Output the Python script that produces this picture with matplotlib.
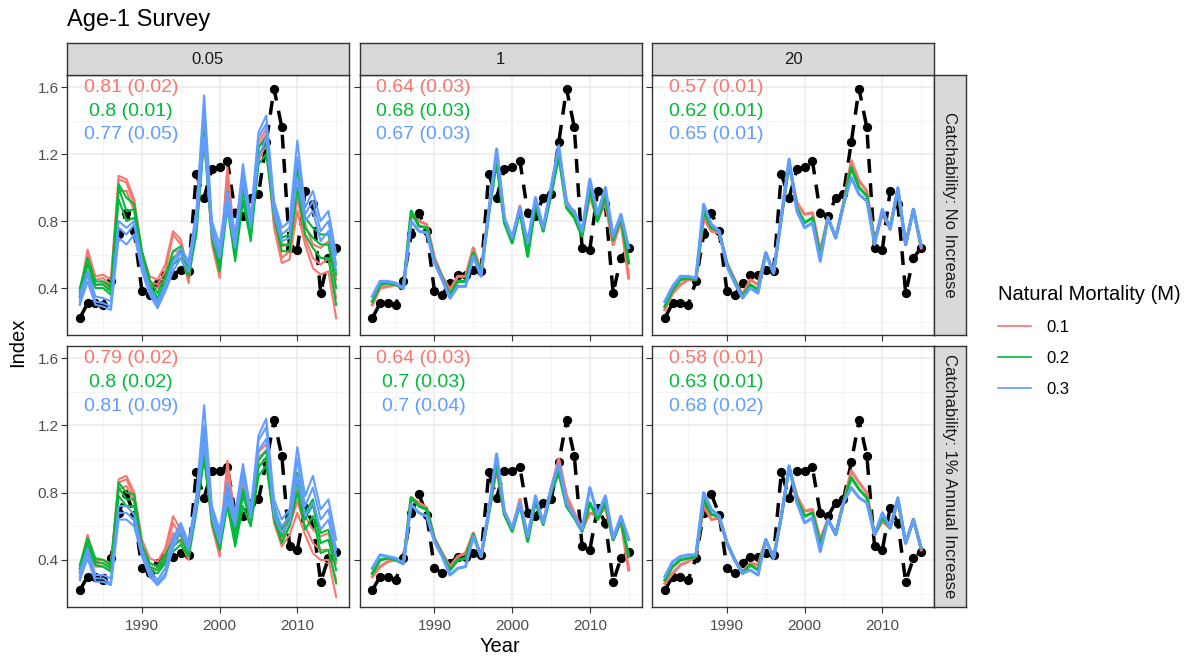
import matplotlib
matplotlib.use("Agg")
import matplotlib.pyplot as plt
from matplotlib.lines import Line2D

plt.rcParams["font.family"] = ["Liberation Sans", "DejaVu Sans"]

W, H = 1190, 659

years = list(range(1982, 2016))
m_labels = ["0.1", "0.2", "0.3"]
m_colors = ["#F8766D", "#00BA38", "#619CFF"]
q_labels = ["0.05", "1", "20"]
row_labels = ["Catchability: No Increase", "Catchability: 1% Annual Increase"]

# observed survey index
obs_top = [0.22, 0.31, 0.31, 0.30, 0.44, 0.72, 0.85, 0.74, 0.38, 0.36, 0.43, 0.48, 0.48, 0.51, 0.50,
           1.08, 0.94, 1.11, 1.12, 1.16, 0.85, 0.83, 0.94, 0.96, 1.27, 1.59, 1.36, 0.64, 0.63, 0.98,
           0.90, 0.37, 0.58, 0.64]
obs_bot = [0.22, 0.30, 0.30, 0.28, 0.41, 0.68, 0.79, 0.67, 0.35, 0.32, 0.38, 0.42, 0.42, 0.44, 0.43,
           0.92, 0.77, 0.93, 0.93, 0.95, 0.68, 0.66, 0.74, 0.76, 0.98, 1.23, 1.02, 0.48, 0.46, 0.71,
           0.62, 0.27, 0.41, 0.45]

# q = 0.05, no increase (hi / mid / lo of the replicate band)
top_q005_m1_hi = [0.37, 0.63, 0.47, 0.48, 0.45, 1.07, 1.05, 0.93, 0.62, 0.47, 0.45, 0.54, 0.74, 0.69, 0.49, 0.83, 1.48,
                  0.73, 0.53, 1.12, 0.66, 1.08, 0.80, 1.27, 1.35, 0.88, 0.65, 0.66, 0.98, 0.78, 0.66, 0.64, 0.68, 0.45]
top_q005_m1_mid = [0.34, 0.61, 0.45, 0.46, 0.42, 1.05, 1.03, 0.90, 0.58, 0.44, 0.42, 0.50, 0.72, 0.66, 0.46, 0.80, 1.46,
                   0.70, 0.49, 1.10, 0.62, 1.06, 0.76, 1.24, 1.32, 0.82, 0.58, 0.62, 0.94, 0.70, 0.58, 0.54, 0.58, 0.34]
top_q005_m1_lo = [0.30, 0.55, 0.42, 0.43, 0.39, 0.98, 0.98, 0.86, 0.55, 0.42, 0.40, 0.46, 0.62, 0.62, 0.43, 0.78, 1.38,
                  0.66, 0.46, 1.06, 0.58, 1.00, 0.72, 1.16, 1.26, 0.76, 0.55, 0.57, 0.86, 0.66, 0.52, 0.48, 0.50, 0.22]
top_q005_m2_hi = [0.40, 0.58, 0.44, 0.44, 0.41, 1.02, 0.94, 0.90, 0.62, 0.45, 0.37, 0.47, 0.62, 0.65, 0.53, 0.80, 1.40,
                  0.78, 0.58, 0.98, 0.64, 1.02, 0.76, 1.24, 1.30, 0.90, 0.70, 0.72, 1.12, 0.82, 0.76, 0.72, 0.72, 0.48]
top_q005_m2_mid = [0.38, 0.54, 0.42, 0.42, 0.38, 1.00, 0.86, 0.87, 0.58, 0.42, 0.34, 0.44, 0.58, 0.62, 0.50, 0.76, 1.36,
                   0.74, 0.54, 0.94, 0.60, 0.98, 0.72, 1.20, 1.26, 0.86, 0.66, 0.66, 1.10, 0.76, 0.70, 0.66, 0.66, 0.40]
top_q005_m2_lo = [0.35, 0.50, 0.40, 0.40, 0.36, 0.93, 0.80, 0.82, 0.55, 0.40, 0.32, 0.41, 0.54, 0.58, 0.47, 0.72, 1.28,
                  0.70, 0.50, 0.88, 0.56, 0.92, 0.68, 1.14, 1.20, 0.82, 0.62, 0.62, 1.00, 0.72, 0.64, 0.58, 0.58, 0.30]
top_q005_m3_hi = [0.36, 0.50, 0.35, 0.34, 0.32, 0.80, 0.76, 0.80, 0.56, 0.40, 0.32, 0.42, 0.56, 0.64, 0.56, 0.86, 1.55,
                  0.80, 0.66, 0.98, 0.72, 1.14, 0.82, 1.33, 1.43, 0.92, 0.76, 0.80, 1.28, 0.88, 0.98, 0.80, 0.86, 0.60]
top_q005_m3_mid = [0.32, 0.48, 0.32, 0.31, 0.29, 0.76, 0.72, 0.78, 0.54, 0.38, 0.30, 0.40, 0.54, 0.61, 0.54, 0.82, 1.45,
                   0.76, 0.62, 0.94, 0.68, 1.10, 0.80, 1.30, 1.38, 0.88, 0.72, 0.76, 1.18, 0.84, 0.92, 0.74, 0.80, 0.54]
top_q005_m3_lo = [0.30, 0.44, 0.30, 0.29, 0.27, 0.70, 0.66, 0.72, 0.50, 0.36, 0.28, 0.38, 0.50, 0.58, 0.50, 0.78, 1.30,
                  0.72, 0.58, 0.88, 0.64, 1.04, 0.76, 1.18, 1.30, 0.84, 0.68, 0.70, 1.06, 0.80, 0.86, 0.68, 0.74, 0.50]

# q = 0.05, 1% annual increase
bot_q005_m1_hi = [0.35, 0.55, 0.40, 0.40, 0.38, 0.88, 0.90, 0.80, 0.52, 0.41, 0.39, 0.47, 0.66, 0.58, 0.45, 0.78, 1.16,
                  0.68, 0.48, 0.99, 0.64, 0.88, 0.70, 1.04, 1.09, 0.72, 0.58, 0.64, 0.82, 0.66, 0.58, 0.54, 0.56, 0.38]
bot_q005_m1_mid = [0.32, 0.52, 0.38, 0.38, 0.36, 0.86, 0.88, 0.77, 0.48, 0.38, 0.36, 0.44, 0.62, 0.54, 0.42, 0.75, 1.13,
                   0.64, 0.44, 0.97, 0.60, 0.85, 0.66, 1.01, 1.05, 0.66, 0.52, 0.60, 0.75, 0.60, 0.50, 0.46, 0.46, 0.28]
bot_q005_m1_lo = [0.28, 0.48, 0.36, 0.36, 0.34, 0.82, 0.84, 0.74, 0.44, 0.35, 0.34, 0.41, 0.56, 0.50, 0.40, 0.72, 1.06,
                  0.60, 0.42, 0.94, 0.56, 0.80, 0.62, 0.96, 1.00, 0.62, 0.48, 0.55, 0.68, 0.55, 0.44, 0.40, 0.40, 0.18]
bot_q005_m2_hi = [0.37, 0.53, 0.41, 0.40, 0.37, 0.86, 0.80, 0.79, 0.49, 0.38, 0.36, 0.43, 0.52, 0.55, 0.47, 0.76, 1.12,
                  0.70, 0.54, 0.84, 0.56, 0.82, 0.68, 0.99, 1.05, 0.72, 0.58, 0.68, 0.92, 0.68, 0.76, 0.56, 0.58, 0.40]
bot_q005_m2_mid = [0.35, 0.50, 0.39, 0.38, 0.35, 0.83, 0.76, 0.76, 0.46, 0.36, 0.34, 0.40, 0.48, 0.52, 0.44, 0.72, 1.07,
                   0.66, 0.50, 0.78, 0.52, 0.78, 0.64, 0.95, 1.01, 0.68, 0.54, 0.64, 0.87, 0.64, 0.73, 0.50, 0.52, 0.34]
bot_q005_m2_lo = [0.33, 0.47, 0.37, 0.36, 0.33, 0.78, 0.72, 0.72, 0.43, 0.34, 0.32, 0.38, 0.45, 0.49, 0.42, 0.68, 1.00,
                  0.62, 0.46, 0.72, 0.48, 0.72, 0.60, 0.90, 0.96, 0.64, 0.50, 0.60, 0.80, 0.58, 0.66, 0.44, 0.46, 0.26]
bot_q005_m3_hi = [0.33, 0.47, 0.31, 0.31, 0.29, 0.72, 0.72, 0.67, 0.46, 0.34, 0.28, 0.35, 0.53, 0.62, 0.50, 0.78, 1.32,
                  0.72, 0.58, 0.86, 0.68, 0.97, 0.70, 1.14, 1.24, 0.76, 0.64, 0.70, 1.07, 0.78, 0.90, 0.70, 0.76, 0.52]
bot_q005_m3_mid = [0.30, 0.44, 0.29, 0.29, 0.26, 0.68, 0.68, 0.64, 0.44, 0.32, 0.26, 0.32, 0.50, 0.60, 0.48, 0.74, 1.20,
                   0.68, 0.54, 0.81, 0.64, 0.94, 0.68, 1.11, 1.19, 0.70, 0.60, 0.66, 1.00, 0.72, 0.83, 0.64, 0.70, 0.46]
bot_q005_m3_lo = [0.28, 0.41, 0.27, 0.27, 0.25, 0.64, 0.64, 0.60, 0.42, 0.30, 0.25, 0.30, 0.47, 0.57, 0.46, 0.70, 1.10,
                  0.65, 0.50, 0.76, 0.60, 0.90, 0.65, 1.05, 1.12, 0.66, 0.56, 0.62, 0.90, 0.66, 0.74, 0.58, 0.64, 0.42]

# q = 1
top_q1_m1 = [0.30, 0.40, 0.41, 0.42, 0.40, 0.83, 0.80, 0.78, 0.58, 0.47, 0.39, 0.47, 0.47, 0.64, 0.50, 0.86, 1.19,
             0.81, 0.69, 0.89, 0.63, 0.92, 0.75, 0.98, 1.22, 0.92, 0.84, 0.72, 0.95, 0.81, 0.91, 0.66, 0.80, 0.46]
top_q1_m2 = [0.32, 0.42, 0.43, 0.42, 0.40, 0.86, 0.77, 0.76, 0.56, 0.46, 0.36, 0.44, 0.44, 0.61, 0.49, 0.85, 1.16,
             0.79, 0.67, 0.86, 0.59, 0.90, 0.74, 0.96, 1.19, 0.88, 0.82, 0.71, 0.99, 0.80, 0.95, 0.69, 0.82, 0.55]
top_q1_m3 = [0.35, 0.44, 0.44, 0.43, 0.40, 0.80, 0.74, 0.73, 0.55, 0.45, 0.34, 0.41, 0.41, 0.59, 0.47, 0.86, 1.23,
             0.82, 0.70, 0.88, 0.67, 0.94, 0.76, 1.00, 1.25, 0.90, 0.86, 0.74, 1.05, 0.84, 1.00, 0.71, 0.84, 0.64]
bot_q1_m1 = [0.30, 0.36, 0.39, 0.40, 0.38, 0.77, 0.74, 0.71, 0.53, 0.44, 0.36, 0.42, 0.44, 0.56, 0.42, 0.69, 0.94,
             0.68, 0.58, 0.76, 0.53, 0.76, 0.62, 0.82, 1.00, 0.78, 0.68, 0.58, 0.68, 0.66, 0.71, 0.52, 0.63, 0.34]
bot_q1_m2 = [0.32, 0.40, 0.41, 0.40, 0.38, 0.77, 0.72, 0.70, 0.52, 0.43, 0.34, 0.40, 0.41, 0.55, 0.42, 0.68, 0.97,
             0.67, 0.57, 0.73, 0.51, 0.75, 0.61, 0.80, 0.92, 0.72, 0.65, 0.57, 0.74, 0.64, 0.74, 0.52, 0.64, 0.42]
bot_q1_m3 = [0.35, 0.43, 0.42, 0.41, 0.38, 0.73, 0.68, 0.66, 0.51, 0.42, 0.31, 0.35, 0.36, 0.54, 0.42, 0.70, 1.03,
             0.69, 0.59, 0.74, 0.54, 0.78, 0.62, 0.82, 0.97, 0.74, 0.66, 0.58, 0.83, 0.67, 0.78, 0.53, 0.66, 0.52]

# q = 20
top_q20_m1 = [0.27, 0.37, 0.42, 0.45, 0.45, 0.82, 0.74, 0.73, 0.55, 0.45, 0.36, 0.45, 0.42, 0.61, 0.49, 0.82, 1.14,
              0.91, 0.84, 0.85, 0.62, 0.82, 0.70, 0.90, 1.16, 1.04, 0.98, 0.68, 0.84, 0.76, 0.98, 0.66, 0.87, 0.64]
top_q20_m2 = [0.29, 0.39, 0.45, 0.46, 0.45, 0.86, 0.76, 0.74, 0.54, 0.44, 0.35, 0.42, 0.39, 0.61, 0.49, 0.82, 1.15,
              0.88, 0.79, 0.82, 0.59, 0.82, 0.70, 0.90, 1.12, 1.00, 0.95, 0.67, 0.86, 0.76, 0.99, 0.66, 0.87, 0.65]
top_q20_m3 = [0.32, 0.41, 0.47, 0.47, 0.46, 0.90, 0.78, 0.74, 0.53, 0.43, 0.34, 0.40, 0.37, 0.61, 0.49, 0.83, 1.17,
              0.86, 0.76, 0.79, 0.56, 0.82, 0.70, 0.90, 1.06, 0.96, 0.92, 0.66, 0.87, 0.75, 1.00, 0.66, 0.87, 0.65]
bot_q20_m1 = [0.26, 0.32, 0.37, 0.39, 0.42, 0.72, 0.64, 0.65, 0.50, 0.40, 0.33, 0.38, 0.37, 0.52, 0.41, 0.66, 0.95,
              0.78, 0.69, 0.70, 0.52, 0.64, 0.56, 0.74, 0.93, 0.86, 0.80, 0.55, 0.63, 0.59, 0.75, 0.50, 0.64, 0.46]
bot_q20_m2 = [0.28, 0.36, 0.40, 0.41, 0.42, 0.76, 0.67, 0.66, 0.50, 0.40, 0.32, 0.37, 0.34, 0.52, 0.41, 0.66, 0.95,
              0.76, 0.66, 0.68, 0.49, 0.64, 0.55, 0.74, 0.89, 0.82, 0.77, 0.55, 0.65, 0.59, 0.76, 0.50, 0.64, 0.47]
bot_q20_m3 = [0.30, 0.39, 0.42, 0.43, 0.43, 0.80, 0.70, 0.66, 0.50, 0.40, 0.32, 0.34, 0.31, 0.52, 0.41, 0.66, 0.96,
              0.74, 0.62, 0.65, 0.45, 0.64, 0.55, 0.74, 0.83, 0.77, 0.74, 0.55, 0.68, 0.59, 0.77, 0.50, 0.64, 0.47]

# correlation labels per panel (M = 0.1, 0.2, 0.3)
top_labels = [["0.81 (0.02)", "0.8 (0.01)", "0.77 (0.05)"],
              ["0.64 (0.03)", "0.68 (0.03)", "0.67 (0.03)"],
              ["0.57 (0.01)", "0.62 (0.01)", "0.65 (0.01)"]]
bot_labels = [["0.79 (0.02)", "0.8 (0.02)", "0.81 (0.09)"],
              ["0.64 (0.03)", "0.7 (0.03)", "0.7 (0.04)"],
              ["0.58 (0.01)", "0.63 (0.01)", "0.68 (0.02)"]]

# series per panel: list over M of list of replicate lines
panels = {
    (0, 0): [[top_q005_m1_hi, top_q005_m1_mid, top_q005_m1_lo],
             [top_q005_m2_hi, top_q005_m2_mid, top_q005_m2_lo],
             [top_q005_m3_hi, top_q005_m3_mid, top_q005_m3_lo]],
    (0, 1): [[top_q1_m1], [top_q1_m2], [top_q1_m3]],
    (0, 2): [[top_q20_m1], [top_q20_m2], [top_q20_m3]],
    (1, 0): [[bot_q005_m1_hi, bot_q005_m1_mid, bot_q005_m1_lo],
             [bot_q005_m2_hi, bot_q005_m2_mid, bot_q005_m2_lo],
             [bot_q005_m3_hi, bot_q005_m3_mid, bot_q005_m3_lo]],
    (1, 1): [[bot_q1_m1], [bot_q1_m2], [bot_q1_m3]],
    (1, 2): [[bot_q20_m1], [bot_q20_m2], [bot_q20_m3]],
}
observed = [obs_top, obs_bot]
labels = [top_labels, bot_labels]


def box(l, t, r, b):
    return [l / W, 1 - b / H, (r - l) / W, (b - t) / H]


fig = plt.figure(figsize=(W / 100, H / 100), dpi=100)

col_x = [(67, 349), (359.5, 641.5), (652, 934)]
row_y = [(75, 335), (346, 607)]
dark = "#333333"


def strip(rect, text, rotation=0):
    sax = fig.add_axes(rect)
    sax.set_facecolor("#D9D9D9")
    sax.set_xticks([])
    sax.set_yticks([])
    for s in sax.spines.values():
        s.set_color(dark)
        s.set_linewidth(1.0)
    sax.text(0.5, 0.5, text, rotation=rotation, ha="center", va="center",
             fontsize=12, color="#1A1A1A", transform=sax.transAxes)


for r in range(2):
    for c in range(3):
        l, rr = col_x[c]
        t, b = row_y[r]
        ax = fig.add_axes(box(l, t, rr, b))
        ax.set_xlim(1980.35, 2016.65)
        ax.set_ylim(0.12, 1.672)
        ax.set_xticks([1990, 2000, 2010])
        ax.set_xticks([1985, 1995, 2005, 2015], minor=True)
        ax.set_yticks([0.4, 0.8, 1.2, 1.6])
        ax.set_yticks([0.2, 0.6, 1.0, 1.4], minor=True)
        ax.set_yticklabels(["0.4", "0.8", "1.2", "1.6"])
        ax.grid(which="major", color="#EBEBEB", lw=1.1)
        ax.grid(which="minor", color="#F2F2F2", lw=0.6)
        ax.set_axisbelow(True)
        for s in ax.spines.values():
            s.set_color(dark)
            s.set_linewidth(1.0)
        ax.tick_params(which="major", length=4, width=0.8, color=dark,
                       labelsize=11, labelcolor="#4D4D4D", pad=2)
        ax.tick_params(axis="x", pad=5)
        ax.tick_params(which="minor", length=0)
        if r == 0:
            ax.tick_params(labelbottom=False)
        if c > 0:
            ax.tick_params(labelleft=False)

        ax.plot(years, observed[r], color="black", lw=2.5, ls=(0, (4, 3)), zorder=2)
        ax.scatter(years, observed[r], s=32, color="black", zorder=2)

        lw = 1.5 if c == 0 else 2.2
        for k in range(3):
            for line in panels[(r, c)][k]:
                ax.plot(years, line, color=m_colors[k], lw=lw, zorder=3 + k, solid_joinstyle="round")

        for k in range(3):
            ax.text(1988.6, 1.595 - 0.14 * k, labels[r][c][k], color=m_colors[k],
                    fontsize=14, ha="center", va="center", zorder=10)

        if c == 2:
            strip(box(934, t, 966, b), row_labels[r], rotation=270)

for c in range(3):
    l, rr = col_x[c]
    strip(box(l, 43, rr, 75), q_labels[c])

fig.text(67 / W, 1 - 20 / H, "Age-1 Survey", fontsize=17, ha="left", va="center")
fig.text(18 / W, 1 - 342 / H, "Index", fontsize=14.5, rotation=90, ha="center", va="center")
fig.text(500 / W, 1 - 646 / H, "Year", fontsize=14.5, ha="center", va="center")

handles = [Line2D([0], [0], color=col, lw=1.2) for col in m_colors]
leg = fig.legend(handles, m_labels, title="Natural Mortality (M)", loc="upper left",
                 bbox_to_anchor=(983 / W, 1 - 270 / H), frameon=False, fontsize=12,
                 title_fontsize=14.5, handlelength=2.0, labelspacing=0.95, handletextpad=0.9)
leg._legend_box.align = "left"

fig.savefig("out.png", dpi=100)
